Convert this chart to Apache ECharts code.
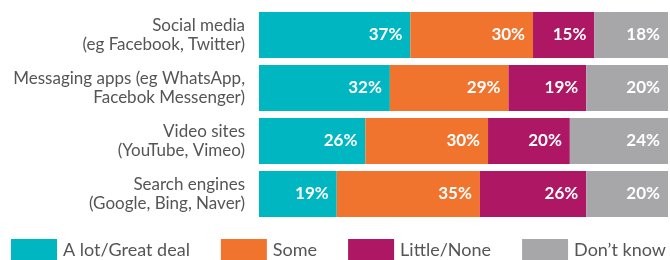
<!DOCTYPE html>
<html>
<head>
<meta charset="UTF-8">
<title>Trust in platforms</title>
<style>
  html, body { margin: 0; padding: 0; background: #fff; }
  #main { width: 670px; height: 260px; }
</style>
<script src="https://cdn.jsdelivr.net/npm/echarts@6/dist/echarts.min.js"></script>
</head>
<body>
<div id="main"></div>
<script>
var categories = [
  'Social media\n(eg Facebook, Twitter)',
  'Messaging apps (eg WhatsApp,\nFacebok Messenger)',
  'Video sites\n(YouTube, Vimeo)',
  'Search engines\n(Google, Bing, Naver)'
];
var seriesNames = ['A lot/Great deal', 'Some', 'Little/None', 'Don\u2019t know'];
var aLot = [37, 32, 26, 19];
var some = [30, 29, 30, 35];
var little = [15, 19, 20, 26];
var dontKnow = [18, 20, 24, 20];
var colors = ['#00b6c0', '#f1742e', '#ad1763', '#a7a7aa'];

var chart = echarts.init(document.getElementById('main'));

function makeSeries(name, data, color) {
  return {
    name: name,
    type: 'bar',
    stack: 'total',
    barWidth: 46,
    data: data,
    itemStyle: { color: color },
    label: {
      show: true,
      position: 'insideRight',
      distance: 8,
      color: '#fff',
      fontFamily: 'Lato',
      fontWeight: 'bold',
      fontSize: 17,
      formatter: '{c}%'
    }
  };
}

chart.setOption({
  animation: false,
  grid: { left: 259, right: 2, top: 8.5, height: 212 },
  xAxis: {
    type: 'value', min: 0, max: 100,
    show: false
  },
  yAxis: {
    type: 'category',
    inverse: true,
    data: categories,
    axisLine: { show: false },
    axisTick: { show: false },
    axisLabel: {
      margin: 14,
      color: '#555',
      fontFamily: 'Lato',
      fontSize: 17,
      lineHeight: 19,
      align: 'right'
    }
  },
  legend: {
    left: 11, top: 239, right: 0,
    padding: 0,
    itemWidth: 46, itemHeight: 22,
    itemGap: 31,
    icon: 'rect',
    textStyle: { color: '#555', fontFamily: 'Lato', fontSize: 18, padding: [0, 0, 0, 1] },
    data: seriesNames
  },
  series: [
    makeSeries(seriesNames[0], aLot, colors[0]),
    makeSeries(seriesNames[1], some, colors[1]),
    makeSeries(seriesNames[2], little, colors[2]),
    makeSeries(seriesNames[3], dontKnow, colors[3])
  ]
});
</script>
</body>
</html>
